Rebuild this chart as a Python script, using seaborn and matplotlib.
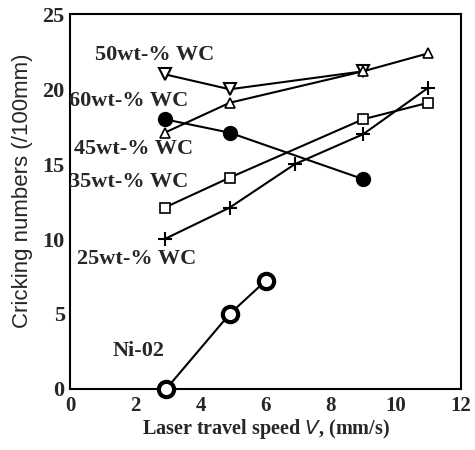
import pandas as pd
import matplotlib.pyplot as plt
import seaborn as sns

# Data
speed_50 = [2.9, 4.9, 9.0]
crack_50 = [21.0, 20.0, 21.2]

speed_60 = [2.9, 4.9, 9.0, 11.0]
crack_60 = [17.1, 19.1, 21.2, 22.4]

speed_45 = [2.9, 4.9, 9.0]
crack_45 = [18.0, 17.1, 14.0]

speed_35 = [2.9, 4.9, 9.0, 11.0]
crack_35 = [12.1, 14.1, 18.0, 19.1]

speed_25 = [2.9, 4.9, 6.9, 9.0, 11.0]
crack_25 = [10.0, 12.1, 15.0, 17.0, 20.1]

speed_ni = [2.95, 4.9, 6.0]
crack_ni = [0.0, 5.0, 7.2]

x_ticks = [0, 2, 4, 6, 8, 10, 12]
y_ticks = [0, 5, 10, 15, 20, 25]

sns.set_style('white')
plt.rcParams['font.family'] = ['Liberation Serif', 'DejaVu Serif']

fig = plt.figure(figsize=(4.75, 4.5), dpi=100)
ax = fig.add_axes([0.148, 0.136, 0.822, 0.832])

series = [
    (speed_50, crack_50, dict(marker='v', markersize=8, markerfacecolor='white', markeredgewidth=1.5)),
    (speed_60, crack_60, dict(marker='^', markersize=7, markerfacecolor='white', markeredgewidth=1.2)),
    (speed_45, crack_45, dict(marker='o', markersize=10, markerfacecolor='black', markeredgewidth=1)),
    (speed_35, crack_35, dict(marker='s', markersize=7, markerfacecolor='white', markeredgewidth=1.2)),
    (speed_25, crack_25, dict(marker='+', markersize=10, markeredgewidth=1.5)),
    (speed_ni, crack_ni, dict(marker='o', markersize=11, markerfacecolor='white', markeredgewidth=3)),
]

for xs, ys, style in series:
    df = pd.DataFrame({'speed': xs, 'crack': ys})
    sns.lineplot(data=df, x='speed', y='crack', ax=ax, color='black', linewidth=1.5,
                 markeredgecolor='black', clip_on=False, zorder=3, **style)

ax.set_xlim(0, 12)
ax.set_ylim(0, 25)
ax.set_xticks(x_ticks)
ax.set_yticks(y_ticks)
ax.tick_params(direction='in', length=6, width=1.2)
ax.tick_params(axis='x', labelsize=15, pad=5)
ax.tick_params(axis='y', labelsize=16, pad=4)
for lab in ax.get_xticklabels() + ax.get_yticklabels():
    lab.set_fontweight('bold')
for sp in ax.spines.values():
    sp.set_linewidth(1.5)
    sp.set_color('black')

ax.set_xlabel(r'Laser travel speed $\it{V}$, (mm/s)', fontsize=14.5, fontweight='bold', labelpad=1)
ax.set_ylabel('Cricking numbers (/100mm)', fontsize=16, family=['Liberation Sans', 'DejaVu Sans'])
ax.yaxis.set_label_coords(-0.095, 0.53)

lab_kw = dict(fontsize=16, fontweight='bold', va='center', ha='left')
ax.text(0.75, 22.3, '50wt-% WC', **lab_kw)
ax.text(-0.05, 19.2, '60wt-% WC', **lab_kw)
ax.text(0.1, 16.0, '45wt-% WC', **lab_kw)
ax.text(-0.05, 13.8, '35wt-% WC', **lab_kw)
ax.text(0.2, 8.7, '25wt-% WC', **lab_kw)
ax.text(1.3, 2.5, 'Ni-02', **lab_kw)

fig.savefig('out.png', dpi=100)
